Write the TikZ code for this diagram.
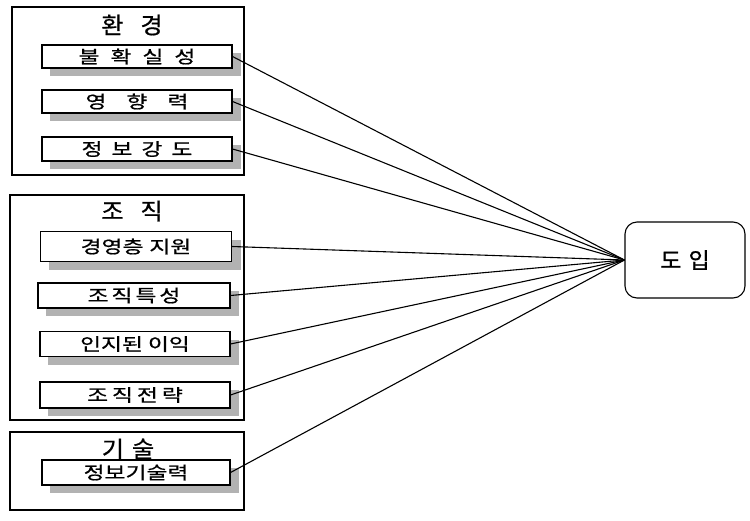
\documentclass[tikz,border=0pt]{standalone}
\usepackage{fontspec}
\setmainfont{Noto Sans CJK KR}
\newfontfamily\kritem[FakeStretch=1.3,FakeBold=0.8]{Noto Sans CJK KR}
\newfontfamily\krtitle[FakeStretch=1.05,FakeBold=0.8]{Noto Sans CJK KR}
\begin{document}
\begin{tikzpicture}[x=1pt,y=-1pt,
  item/.style={draw,line width=1.1pt,fill=white,rectangle,inner sep=0pt,font=\kritem\fontsize{17.5}{17.5}\selectfont},
  title/.style={font=\krtitle\fontsize{23}{23}\selectfont,inner sep=0pt},
  link/.style={line width=1.1pt}]
\useasboundingbox (0,0) rectangle (750,520);
% groups
\draw[line width=1.3pt] (12,7) rectangle (244,175);
\draw[line width=1.3pt] (10,195) rectangle (244,420);
\draw[line width=1.3pt] (10,432) rectangle (244,510);
\node[title] (t1) at (132,25) {환\hspace{17pt}경};
\node[title] (t2) at (132,211) {조\hspace{17pt}직};
\node[title] (t3) at (128,449) {기\hspace{8pt}술};
% shadows
\foreach \cx/\cy/\w/\h in {137/56.5/190/23, 137/101.5/190/23, 137/149/190/24,
  136/246.5/191/30, 134/295.5/192/25, 135/344/190/25, 135/395/190/26, 136/472.5/188/25}{
  \fill[black!30] (\cx-\w/2+8,\cy-\h/2+8) rectangle (\cx+\w/2+9,\cy+\h/2+8);
}
% items
\node[item,minimum width=190pt,minimum height=23pt] (a1) at (137,56.5) {불\hspace{11pt}확\hspace{11pt}실\hspace{11pt}성\hspace{24pt}};
\node[item,minimum width=190pt,minimum height=23pt] (a2) at (137,101.5) {영\hspace{20pt}향\hspace{20pt}력\hspace{22pt}};
\node[item,minimum width=190pt,minimum height=24pt] (a3) at (137,149) {정\hspace{9pt}보\hspace{9pt}강\hspace{9pt}도\hspace{19pt}};
\node[item,minimum width=191pt,minimum height=30pt] (b1) at (136,246.5) {경영층\hspace{6pt}지원\hspace{8pt}};
\node[item,minimum width=192pt,minimum height=25pt] (b2) at (134,295.5) {조\hspace{3pt}직\hspace{3pt}특\hspace{3pt}성\hspace{19pt}};
\node[item,minimum width=190pt,minimum height=25pt] (b3) at (135,344) {인지된\hspace{5pt}이익\hspace{6pt}};
\node[item,minimum width=190pt,minimum height=26pt] (b4) at (135,395) {조\hspace{4pt}직\hspace{4pt}전\hspace{4pt}략\hspace{23pt}};
\node[item,minimum width=188pt,minimum height=25pt] (c1) at (136,472.5) {정보기술력\hspace{26pt}};
% target
\node[draw,line width=1.1pt,rounded corners=12pt,minimum width=120pt,minimum height=76pt,
  font=\krtitle\fontsize{22}{22}\selectfont] (d) at (685,260) {도\hspace{7pt}입};
% links
\foreach \n in {a1,a2,a3,b1,b2,b3,b4,c1}{
  \draw[link] (\n.east) -- (d.west);
}
\end{tikzpicture}
\end{document}
